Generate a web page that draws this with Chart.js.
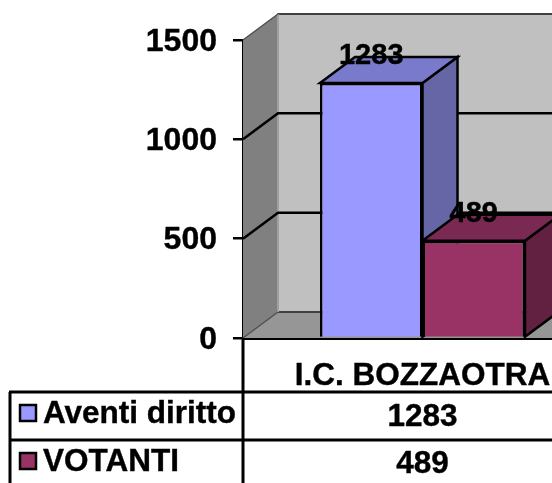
<!DOCTYPE html>
<html><head><meta charset="utf-8">
<style>html,body{margin:0;padding:0;background:#fff;width:552px;height:483px;overflow:hidden}
#wrap{width:552px;height:483px;overflow:hidden;position:relative}
canvas{display:block}</style>
<script src="https://cdn.jsdelivr.net/npm/chart.js@4"></script>
</head><body><div id="wrap"><canvas id="c" width="660" height="483" style="width:660px;height:483px"></canvas></div>
<script>
const categories = ["I.C. BOZZAOTRA"];
const seriesNames = ["Aventi diritto", "VOTANTI"];
const aventi = [1283];
const votanti = [489];
const yTicks = [0, 500, 1000, 1500];
const frontColors = ["#9999FF", "#993366"];
const topColors = ["#7A7ACC", "#7A2952"];
const sideColors = ["#6666A6", "#632142"];
const DX = 35, DY = -26;
const FAMILY = "'Liberation Sans', Arial, sans-serif";
const FONT = "bold 31.5px " + FAMILY;
const LABEL_FONT = "bold 29px " + FAMILY;
const HEAVY = 0.4;

function poly(ctx, pts, fill, stroke, lw) {
  ctx.beginPath();
  pts.forEach((p, i) => i ? ctx.lineTo(p[0], p[1]) : ctx.moveTo(p[0], p[1]));
  ctx.closePath();
  if (fill) { ctx.fillStyle = fill; ctx.fill(); }
  if (stroke) { ctx.strokeStyle = stroke; ctx.lineWidth = lw; ctx.stroke(); }
}
function heavyText(ctx, s, x, y) {
  ctx.fillStyle = "#000"; ctx.strokeStyle = "#000"; ctx.lineWidth = HEAVY;
  ctx.fillText(s, x, y); ctx.strokeText(s, x, y);
}

const walls = {
  id: "walls",
  beforeDatasetsDraw(chart) {
    const { ctx, chartArea: a, scales: { y } } = chart;
    const t = a.top, b = a.bottom, l = a.left, r = a.right;
    ctx.save();
    poly(ctx, [[l + DX, t + DY], [r + DX, t + DY], [r + DX, b + DY], [l + DX, b + DY]], "#C0C0C0", "#808080", 2);
    ctx.strokeStyle = "#404040"; ctx.lineWidth = 2;
    ctx.beginPath(); ctx.moveTo(l + DX, t + DY); ctx.lineTo(r + DX, t + DY); ctx.stroke();
    poly(ctx, [[l, b], [l + DX, b + DY], [r + DX, b + DY], [r, b]], "#969696", null);
    ctx.beginPath(); ctx.moveTo(l + DX, b + DY); ctx.lineTo(r + DX, b + DY); ctx.strokeStyle = "#404040"; ctx.stroke();
    poly(ctx, [[l, t], [l + DX, t + DY], [l + DX, b + DY], [l, b]], "#808080", null);
    ctx.strokeStyle = "#A0A0A0"; ctx.lineWidth = 2;
    ctx.beginPath(); ctx.moveTo(l + DX, t + DY); ctx.lineTo(l + DX, b + DY); ctx.stroke();
    ctx.strokeStyle = "#505050"; ctx.lineWidth = 1.5;
    ctx.beginPath(); ctx.moveTo(l, t); ctx.lineTo(l + DX, t + DY); ctx.moveTo(l, b); ctx.lineTo(l + DX, b + DY); ctx.stroke();
    ctx.strokeStyle = "#000"; ctx.lineWidth = 2.5;
    yTicks.slice(1, -1).forEach(v => {
      const p = y.getPixelForValue(v);
      ctx.beginPath(); ctx.moveTo(l, p); ctx.lineTo(l + DX, p + DY); ctx.lineTo(r + DX, p + DY); ctx.stroke();
    });
    chart.data.datasets.forEach((ds, i) => {
      chart.getDatasetMeta(i).data.forEach(bar => {
        const x0 = bar.x - bar.width / 2, x1 = bar.x + bar.width / 2, top = bar.y, base = bar.base;
        poly(ctx, [[x1, top], [x1 + DX, top + DY], [x1 + DX, base + DY], [x1, base]], sideColors[i], "#000", 2.5);
        poly(ctx, [[x0, top], [x0 + DX, top + DY], [x1 + DX, top + DY], [x1, top]], topColors[i], "#000", 2.5);
      });
    });
    ctx.restore();
  },
  afterDatasetsDraw(chart) {
    const { ctx } = chart;
    ctx.save();
    ctx.font = LABEL_FONT; ctx.textAlign = "center"; ctx.textBaseline = "middle";
    chart.data.datasets.forEach((ds, i) => {
      chart.getDatasetMeta(i).data.forEach((bar, j) => {
        heavyText(ctx, String(ds.data[j]), bar.x, bar.y - 27);
      });
    });
    ctx.restore();
  },
  afterDraw(chart) {
    const { ctx, chartArea: a } = chart;
    const rows = [392, 440], legendY = [414, 462], valueY = [417, 464], keyY = [413, 461], bottom = 483, tableLeft = 10;
    ctx.save();
    ctx.strokeStyle = "#000"; ctx.lineWidth = 3;
    ctx.beginPath();
    rows.forEach(y => { ctx.moveTo(tableLeft - 1, y); ctx.lineTo(chart.width, y); });
    ctx.moveTo(tableLeft, rows[0]); ctx.lineTo(tableLeft, bottom);
    ctx.moveTo(a.left, a.bottom); ctx.lineTo(a.left, bottom);
    ctx.stroke();
    ctx.font = FONT; ctx.textBaseline = "middle";
    chart.data.datasets.forEach((ds, i) => {
      ctx.fillStyle = frontColors[i]; ctx.strokeStyle = "#000"; ctx.lineWidth = 2.5;
      ctx.fillRect(20, keyY[i] - 8, 16, 16); ctx.strokeRect(20, keyY[i] - 8, 16, 16);
      ctx.textAlign = "left";
      heavyText(ctx, seriesNames[i], 43, legendY[i]);
      ctx.textAlign = "center";
      heavyText(ctx, String(ds.data[0]), (a.left + a.right) / 2, valueY[i]);
    });
    ctx.restore();
  }
};

new Chart(document.getElementById("c"), {
  type: "bar",
  data: {
    labels: categories,
    datasets: [
      { label: seriesNames[0], data: aventi, backgroundColor: frontColors[0], borderColor: "#000", borderWidth: 2.5 },
      { label: seriesNames[1], data: votanti, backgroundColor: frontColors[1], borderColor: "#000", borderWidth: 2.5 }
    ]
  },
  options: {
    responsive: false, animation: false,
    layout: { padding: { top: 40, right: 58, left: 0, bottom: 0 } },
    plugins: { legend: { display: false }, tooltip: { enabled: false } },
    datasets: { bar: { categoryPercentage: 0.571, barPercentage: 1 } },
    scales: {
      x: {
        afterFit(s) { s.height = 145; },
        grid: { display: false },
        border: { color: "#000", width: 3 },
        ticks: { color: "#000", font: { family: FAMILY, size: 31.5, weight: "bold" }, padding: 11, maxRotation: 0, textStrokeColor: "#000", textStrokeWidth: HEAVY }
      },
      y: {
        min: 0, max: 1500,
        afterFit(s) { s.width = 243; },
        afterBuildTicks(s) { s.ticks = yTicks.map(v => ({ value: v })); },
        grid: { drawOnChartArea: false, drawTicks: true, tickLength: 10, color: "#000", lineWidth: 2.5 },
        border: { color: "#000", width: 3 },
        ticks: { color: "#000", font: { family: FAMILY, size: 32, weight: "bold" }, padding: 16, labelOffset: 2, callback: v => String(v), textStrokeColor: "#000", textStrokeWidth: HEAVY }
      }
    }
  },
  plugins: [walls]
});
</script></body></html>
